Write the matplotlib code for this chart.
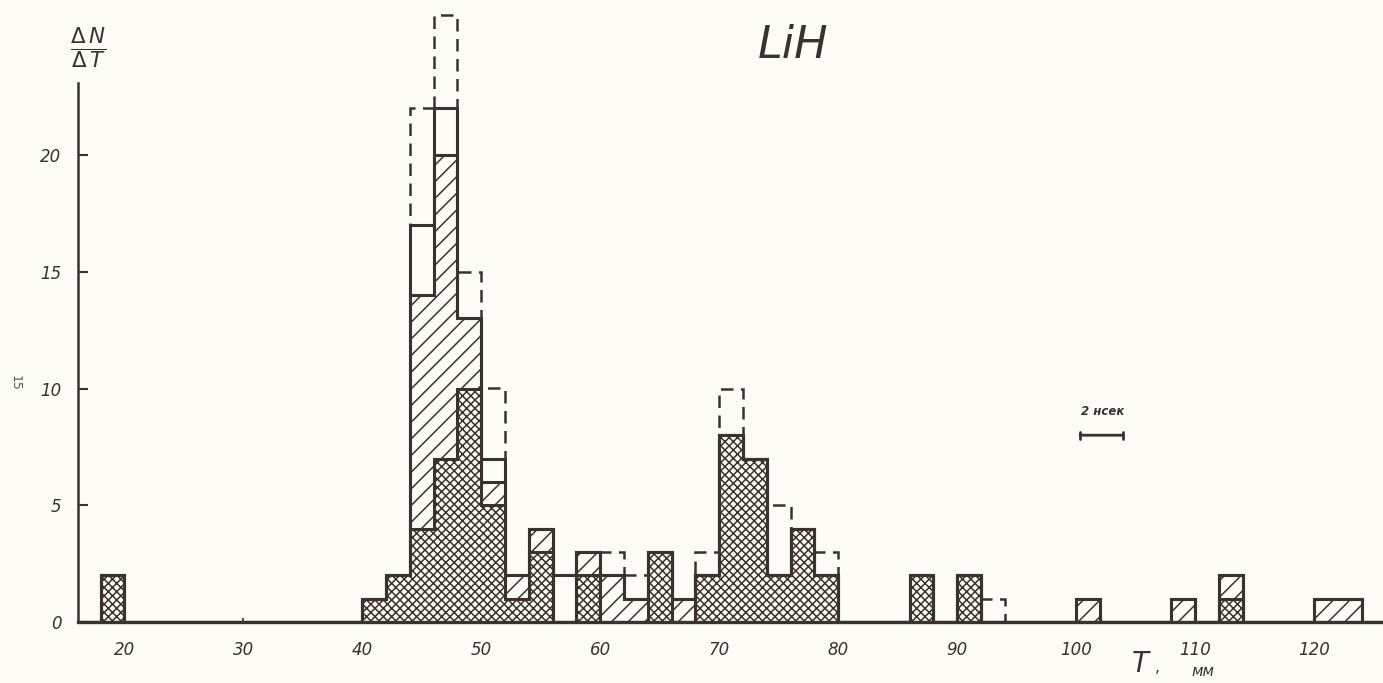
import numpy as np
import matplotlib.pyplot as plt

# histogram of LiH, bins 2 mm wide; layers stacked from the bottom up
bin_left = [18, 40, 42, 44, 46, 48, 50, 52, 54, 56, 58, 60, 62, 64, 66, 68,
            70, 72, 74, 76, 78, 86, 90, 92, 100, 108, 112, 120, 122]
cross = [2, 1, 2, 4, 7, 10, 5, 1, 3, 0, 2, 0, 0, 3, 0, 2,
         8, 7, 2, 4, 2, 2, 2, 0, 0, 0, 1, 0, 0]
single = [0, 0, 0, 10, 13, 3, 1, 1, 1, 0, 1, 2, 1, 0, 1, 0,
          0, 0, 0, 0, 0, 0, 0, 0, 1, 1, 1, 1, 1]
blank = [0, 0, 0, 3, 2, 0, 1, 0, 0, 2, 0, 0, 0, 0, 0, 0,
         0, 0, 0, 0, 0, 0, 0, 0, 0, 0, 0, 0, 0]
dashed_total = [0, 0, 0, 22, 26, 15, 10, 0, 0, 0, 0, 3, 2, 0, 0, 3,
                10, 0, 5, 0, 3, 0, 0, 1, 0, 0, 0, 0, 0]

y_ticks = [0, 5, 10, 15, 20]
x_ticks = [20, 30, 40, 50, 60, 70, 80, 90, 100, 110, 120]

INK = '#3a322b'
PAPER = '#fdfcf7'
W, H = 1383, 683
BW = 2.0

plt.rcParams['hatch.linewidth'] = 1.1
plt.rcParams['hatch.color'] = INK

fig = plt.figure(figsize=(W / 100, H / 100), dpi=100, facecolor=PAPER)
ax = fig.add_axes([78 / W, (H - 622) / H, (W - 78) / W, 622 / H])
ax.set_facecolor(PAPER)

# put every layer on a full grid of 2 mm bins so the outlines are steps
edges = np.arange(16, 126 + BW, BW)
n = len(edges) - 1
idx = ((np.array(bin_left) - edges[0]) / BW).astype(int)
c = np.zeros(n); s = np.zeros(n); b = np.zeros(n); d = np.zeros(n)
c[idx] = cross
s[idx] = single
b[idx] = blank
d[idx] = dashed_total

lvl1 = c
lvl2 = c + s
lvl3 = c + s + b


def ext(v):
    return np.append(v, v[-1])


ax.fill_between(edges, 0, ext(lvl1), step='post', facecolor='none',
                edgecolor=INK, linewidth=0, hatch='xxxx')
ax.fill_between(edges, ext(lvl1), ext(lvl2), step='post', facecolor='none',
                edgecolor=INK, linewidth=0, hatch='//')

for lv in (lvl1, lvl2, lvl3):
    ax.stairs(lv, edges, baseline=None, color=INK, linewidth=2.2)

m = d > lvl3
xc = edges[:-1] + BW / 2
ax.bar(xc[m], (d - lvl3)[m], BW, bottom=lvl3[m], fill=False, edgecolor=INK,
       linewidth=1.8, linestyle=(0, (5, 3)))

ax.set_xlim(16.1, 125.8)
ax.set_ylim(0, 622 / 23.35)

for sp in ['top', 'right']:
    ax.spines[sp].set_visible(False)
ax.spines['left'].set_bounds(0, 23.1)
ax.spines['left'].set_linewidth(1.8)
ax.spines['bottom'].set_linewidth(2.4)
ax.spines['left'].set_color(INK)
ax.spines['bottom'].set_color(INK)

ax.set_yticks(y_ticks)
ax.set_yticklabels([str(v) for v in y_ticks], fontstyle='italic', fontsize=12, color=INK)
ax.set_xticks(x_ticks)
ax.set_xticklabels([str(v) for v in x_ticks], fontstyle='italic', fontsize=12, color=INK)
ax.tick_params(axis='y', direction='in', length=7, width=1.5, color=INK, pad=12)
ax.tick_params(axis='x', direction='in', length=3, width=1.2, color=INK, pad=14)

# scale bar "2 нсек"
ax.annotate('', xy=(100.1, 8.0), xytext=(104.2, 8.0),
            arrowprops=dict(arrowstyle='|-|, widthA=0.25, widthB=0.25', color=INK, lw=2))
ax.text(102.2, 9.0, '2 нсек', ha='center', va='center', fontsize=8.5,
        fontstyle='italic', fontweight='bold', color=INK)

# title and axis labels
fig.text(793 / W, 1 - 45 / H, 'LiH', ha='center', va='center', fontsize=32,
         fontstyle='italic', color=INK)
fig.text(88 / W, 1 - 48 / H, r'$\frac{\Delta\,N}{\Delta\,T}$', ha='center', va='center',
         fontsize=22, color=INK)
fig.text(1140 / W, 1 - 664 / H, 'T', ha='center', va='center', fontsize=20,
         fontstyle='italic', color=INK)
fig.text(1157 / W, 1 - 668 / H, ',', ha='center', va='center', fontsize=11,
         color=INK)
fig.text(1203 / W, 1 - 672 / H, 'мм', ha='center', va='center', fontsize=11,
         fontstyle='italic', color=INK)
fig.text(15 / W, 1 - 383 / H, '15', ha='center', va='center', fontsize=9,
         rotation=-90, color='#555555')

fig.savefig('out.png', dpi=100, facecolor=PAPER)
